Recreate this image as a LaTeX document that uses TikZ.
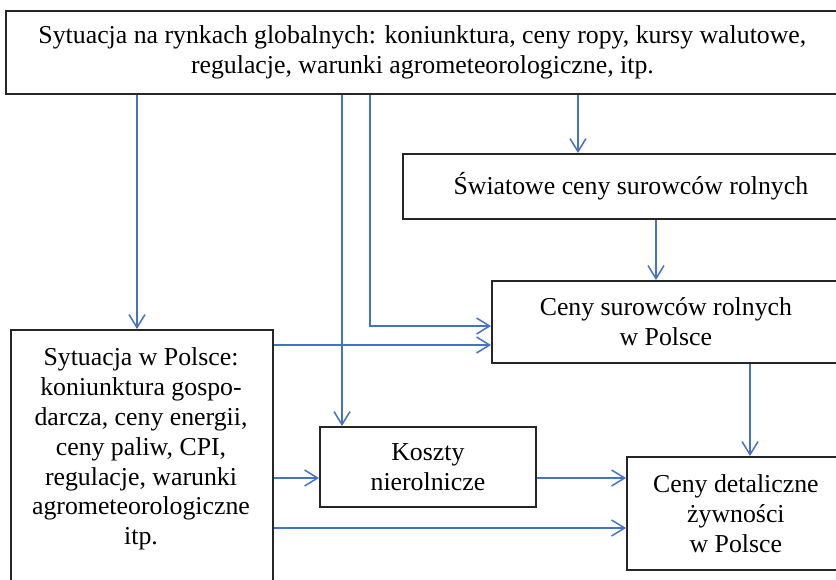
\documentclass[tikz,border=0pt]{standalone}
\usepackage{fontspec}
\setmainfont{Liberation Serif}
\usepackage{xcolor}
\usetikzlibrary{arrows.meta}
\definecolor{linkblue}{RGB}{68,114,196}

\begin{document}
\begin{tikzpicture}[x=0.5pt, y=-0.5pt,
    box/.style={draw=black!85, line width=0.9pt, anchor=north west, align=center,
      inner sep=0pt, font=\fontsize{12.9}{14.9}\selectfont},
    txt/.style={align=center, font=\fontsize{12.9}{14.9}\selectfont},
    arr/.style={-{Straight Barb[length=6.5pt, width=8pt]}, line width=0.75pt, draw=linkblue}]
  \useasboundingbox (0,0) rectangle (836,579);
  %--- Boxes
  \node[box, minimum width=416.5pt, minimum height=41.5pt] (glob) at (5,10)
    {Sytuacja na rynkach globalnych: koniunktura, ceny ropy, kursy walutowe,\\
     regulacje, warunki agrometeorologiczne, itp.};
  \node[box, minimum width=228pt, minimum height=32.5pt] (swi) at (402,153)
    {Światowe ceny surowców rolnych};
  \node[box, minimum width=174pt, minimum height=41pt] (sur) at (491,280)
    {Ceny surowców rolnych\\ w Polsce};
  \node[box, minimum width=131pt, minimum height=140pt] (pl) at (10,329) {};
  \node[txt] (pltxt) at (141,449)
    {Sytuacja w Polsce:\\ koniunktura gospo-\\ darcza, ceny energii,\\ ceny paliw, CPI,\\
     regulacje, warunki\\ agrometeorologiczne\\ itp.};
  \node[box, minimum width=108pt, minimum height=40pt] (kos) at (319,426)
    {Koszty\\ nierolnicze};
  \node[box, minimum width=109pt, minimum height=56.5pt] (det) at (626,456)
    {Ceny detaliczne\\ żywności\\ w Polsce};
  %--- Connector positions
  \coordinate (a1) at (137,0);
  \coordinate (a2) at (342,0);
  \coordinate (a3) at (370,326);
  \coordinate (a4) at (578,0);
  \coordinate (a5) at (656,0);
  \coordinate (a6) at (0,345);
  \coordinate (a7) at (0,478);
  \coordinate (a8) at (0,528);
  \coordinate (a9) at (750,0);
  %--- From the global situation
  \draw[arr] (a1 |- glob.south) -- (a1 |- pl.north);
  \draw[arr] (a2 |- glob.south) -- (a2 |- kos.north);
  \draw[arr] (a3 |- glob.south) -- (a3) -- (a3 -| sur.west);
  \draw[arr] (a4 |- glob.south) -- (a4 |- swi.north);
  %--- Price chain
  \draw[arr] (a5 |- swi.south) -- (a5 |- sur.north);
  \draw[arr] (a9 |- sur.south) -- (a9 |- det.north);
  %--- From the situation in Poland
  \draw[arr] (a6 -| pl.east) -- (a6 -| sur.west);
  \draw[arr] (a7 -| pl.east) -- (a7 -| kos.west);
  \draw[arr] (a8 -| pl.east) -- (a8 -| det.west);
  \draw[arr] (a7 -| kos.east) -- (a7 -| det.west);
\end{tikzpicture}
\end{document}
